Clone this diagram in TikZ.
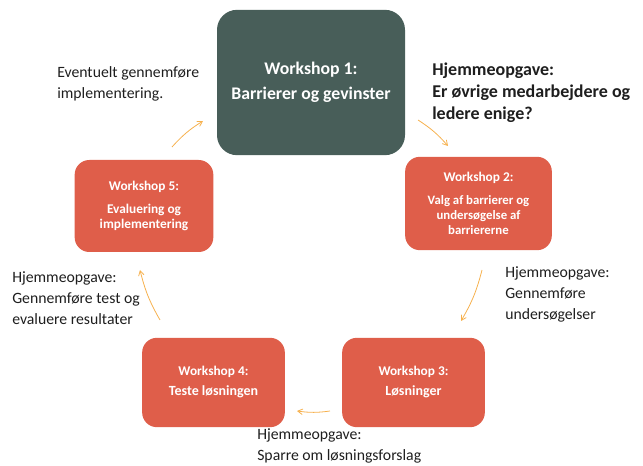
\documentclass[tikz,border=0pt]{standalone}
\usepackage{fontspec}
\setmainfont{Carlito}
\usetikzlibrary{arrows}
\usepackage{xcolor}
\definecolor{slate}{HTML}{485E59}
\definecolor{brick}{HTML}{DF5E4A}
\definecolor{amber}{HTML}{F6B14E}
\definecolor{ink}{HTML}{1E1E1E}
\newcommand{\wshead}[1]{{\fontsize{10}{11.5}\selectfont #1}}
\tikzset{
  wsnode/.style = {align=center, text centered, inner sep=0pt,
    text=white, font=\bfseries\fontsize{9.6}{11.5}\selectfont},
  ws_red/.style = {wsnode, fill=brick, rounded corners=11pt,
    minimum width=#1},
  ws_dark/.style = {wsnode, fill=slate, rounded corners=15pt,
    minimum width=141pt, minimum height=109pt,
    font=\bfseries\fontsize{13.3}{15}\selectfont},
  hw_note/.style = {align=left, anchor=north west, inner sep=0pt,
    text=ink, font=\fontsize{11.8}{15.8}\selectfont},
  hw_bold/.style = {hw_note, font=\bfseries\fontsize{13.5}{16.5}\selectfont},
  cyc/.style = {->, >=angle 60, draw=amber, line width=0.6pt, bend left=8},
}

\begin{document}
\begin{tikzpicture}[x=0.75pt, y=0.75pt]
  \useasboundingbox (0,0) rectangle (643,-466);

  % workshops
  \node [ws_dark] (ws1) at (311,-82.5) {Workshop 1:\\[4pt]Barrierer og gevinster};
  \node [ws_red=110pt, minimum height=70pt] (ws2) at (478.5,-203.5)
      {\wshead{Workshop 2:}\\[5.5pt]Valg af barrierer og\\unders\o gelse af\\barriererne};
  \node [ws_red=107pt, minimum height=67pt,
         font=\bfseries\fontsize{10.5}{11.5}\selectfont] (ws3) at (413.5,-382.5)
      {\wshead{Workshop 3:}\\[3.5pt]L\o sninger};
  \node [ws_red=107pt, minimum height=67pt,
         font=\bfseries\fontsize{10.5}{11.5}\selectfont] (ws4) at (213.5,-382.5)
      {\wshead{Workshop 4:}\\[3.5pt]Teste l\o sningen};
  \node [ws_red=104pt, minimum height=69pt,
         font=\bfseries\fontsize{10}{11.5}\selectfont] (ws5) at (144,-206)
      {\wshead{Workshop 5:}\\[6pt]Evaluering og\\implementering};

  % homework notes
  \node [hw_bold] (hw1) at (432,-63)
      {Hjemmeopgave:\\Er \o vrige medarbejdere og\\ledere enige?};
  \node [hw_note] (hw2) at (505,-266)
      {Hjemmeopgave:\\Gennemf\o re\\unders\o gelser};
  \node [hw_note] (hw3) at (257,-428)
      {Hjemmeopgave:\\Sparre om l\o sningsforslag};
  \node [hw_note] (hw4) at (12,-271)
      {Hjemmeopgave:\\Gennemf\o re test og\\evaluere resultater};
  \node [hw_note] (hw5) at (57,-66)
      {Eventuelt gennemf\o re\\implementering.};

  % cycle arrows
  \coordinate (a1s) at (418,-120);  \coordinate (a1e) at (448,-146);
  \coordinate (a2s) at (482,-270);  \coordinate (a2e) at (461,-321);
  \coordinate (a3s) at (330,-411);  \coordinate (a3e) at (297,-411);
  \coordinate (a4s) at (160,-320);  \coordinate (a4e) at (140,-270);
  \coordinate (a5s) at (172,-147);  \coordinate (a5e) at (203,-121);
  \draw [cyc] (a1s) to (a1e);
  \draw [cyc] (a2s) to (a2e);
  \draw [cyc] (a3s) to (a3e);
  \draw [cyc] (a4s) to (a4e);
  \draw [cyc] (a5s) to (a5e);
\end{tikzpicture}
\end{document}
